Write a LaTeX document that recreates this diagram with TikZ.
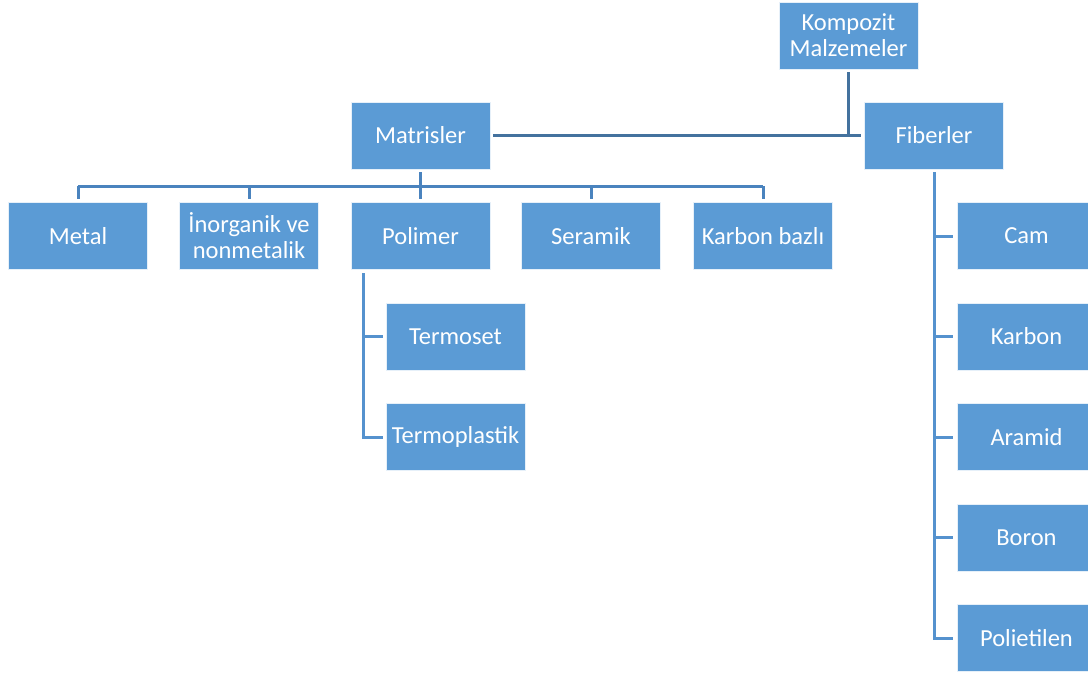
\documentclass[tikz,border=0pt]{standalone}
\usepackage{fontspec}
\setmainfont{Carlito}
\definecolor{boxfill}{HTML}{5B9BD5}
\definecolor{topline}{HTML}{44729E}
\definecolor{midline}{HTML}{4A83BE}
\definecolor{lowline}{HTML}{5592CE}
\tikzset{
  box/.style={rectangle, fill=boxfill, draw=white!85!boxfill, line width=0.8pt,
    minimum width=139pt, minimum height=67pt, inner sep=0pt, align=center,
    text=white, font=\fontsize{24.5}{26}\selectfont},
  conn/.style={line width=3pt},
}
\begin{document}
\begin{tikzpicture}[x=1pt,y=-1pt]
\useasboundingbox (0,0) rectangle (1088,675);
\clip (0,0) rectangle (1088,675);
% top
\node[box] (K) at (848.5,35.5) {Kompozit\\Malzemeler};
\node[box] (M) at (420.5,135.5) {Matrisler};
\node[box] (F) at (934,135.5) {Fiberler};
% matrix children
\node[box] (Metal) at (78,236) {Metal};
\node[box] (Inor) at (249,236) {İnorganik ve\\nonmetalik};
\node[box] (Pol) at (420.5,236) {Polimer};
\node[box] (Ser) at (591,236) {Seramik};
\node[box] (Kb) at (763,236) {Karbon bazlı};
% polymer children
\node[box] (Tset) at (455.5,336.5) {Termoset};
\node[box] (Tpl) at (455.5,437) {Termoplastik};
% fiber children
\node[box] (Cam) at (1026.5,236) {Cam};
\node[box] (Kar) at (1026.5,336.5) {Karbon};
\node[box] (Ara) at (1026.5,437) {Aramid};
\node[box] (Bor) at (1026.5,537.5) {Boron};
\node[box] (Pe) at (1026.5,638) {Polietilen};
% connectors top
\draw[conn,topline] ([yshift=-3pt]K.south) -- (K.south |- M.east);
\draw[conn,topline] ([xshift=3pt]M.east) -- ([xshift=-3pt]F.west);
% matrix bus
\coordinate (mbus) at (420.5,186);
\draw[conn,midline] ([yshift=-3pt]M.south) -- ([yshift=3pt]Pol.north);
\draw[conn,midline] (Metal.north |- mbus) -- (Kb.north |- mbus);
\foreach \c in {Metal,Inor,Ser,Kb}
  \draw[conn,midline] (\c.north |- mbus) -- ([yshift=3pt]\c.north);
% polymer
\coordinate (pbus) at (363,273);
\draw[conn,lowline] (pbus) |- ([xshift=-3pt]Tpl.west);
\draw[conn,lowline] (pbus |- Tset.west) -- ([xshift=-3pt]Tset.west);
% fibers
\draw[conn,lowline] ([yshift=-3pt]F.south) |- ([xshift=-4pt]Pe.west);
\foreach \c in {Cam,Kar,Ara,Bor}
  \draw[conn,lowline] (F.south |- \c.west) -- ([xshift=-4pt]\c.west);
\end{tikzpicture}
\end{document}
